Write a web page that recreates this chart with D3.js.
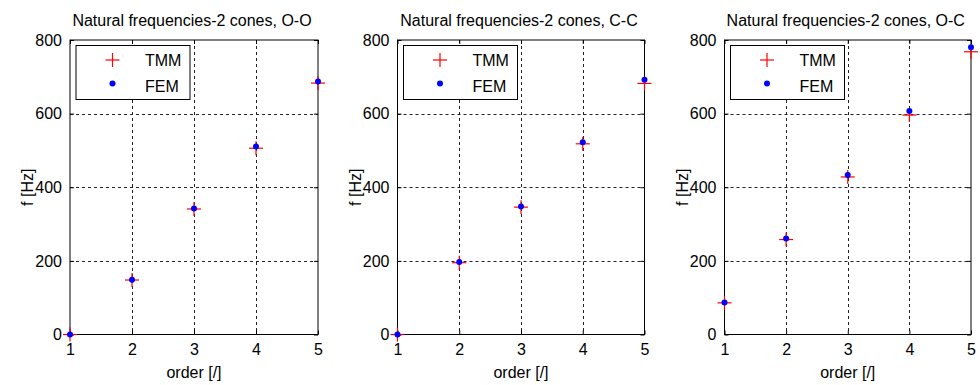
<!DOCTYPE html>
<html><head><meta charset="utf-8">
<script src="https://cdn.jsdelivr.net/npm/d3@7"></script>
<style>body{margin:0;background:#fff}svg{display:block}text{font-family:"Liberation Sans",Arial,sans-serif;fill:#000}</style>
</head><body><svg id="c" width="980" height="385"></svg>
<script>
const orders = [1, 2, 3, 4, 5];
const xTicks = [1, 2, 3, 4, 5];
const yTicks = [0, 200, 400, 600, 800];
const titles = ["Natural frequencies-2 cones, O-O", "Natural frequencies-2 cones, C-C", "Natural frequencies-2 cones, O-C"];
const seriesNames = ["TMM", "FEM"];
const tmmOO = [0, 148, 341, 506, 683];
const femOO = [0, 149, 342, 511, 687];
const tmmCC = [0, 195, 346, 518, 682];
const femCC = [0, 197, 348, 522, 692];
const tmmOC = [86, 258, 428, 596, 768];
const femOC = [87, 261, 433, 607, 780];
const xLabel = "order [/]";
const yLabel = "f [Hz]";

const panels = [
  {title: titles[0], tmm: tmmOO, fem: femOO, x0: 70, x1: 318},
  {title: titles[1], tmm: tmmCC, fem: femCC, x0: 397.5, x1: 644.5},
  {title: titles[2], tmm: tmmOC, fem: femOC, x0: 724.5, x1: 971}
];
const plotTop = 40, plotBottom = 334.5;
const svg = d3.select("#c");
const FS = 16;

panels.forEach(p => {
  const x = d3.scaleLinear().domain([1, 5]).range([p.x0, p.x1]);
  const y = d3.scaleLinear().domain([0, 800]).range([plotBottom, plotTop]);
  const g = svg.append("g");
  g.selectAll(".gx").data(xTicks.slice(1, -1)).join("line")
    .attr("x1", d => Math.round(x(d)) + 0.5).attr("x2", d => Math.round(x(d)) + 0.5)
    .attr("y1", plotTop).attr("y2", plotBottom)
    .attr("stroke", "#222").attr("stroke-dasharray", "3,3");
  g.selectAll(".gy").data(yTicks.slice(1, -1)).join("line")
    .attr("y1", d => Math.round(y(d)) + 0.5).attr("y2", d => Math.round(y(d)) + 0.5)
    .attr("x1", p.x0).attr("x2", p.x1)
    .attr("stroke", "#222").attr("stroke-dasharray", "3,3");
  const ax = g.append("g").attr("transform", `translate(0,${plotBottom})`)
    .call(d3.axisBottom(x).tickValues(xTicks).tickSize(-4).tickPadding(9).tickFormat(d3.format("d")));
  const axT = g.append("g").attr("transform", `translate(0,${plotTop})`)
    .call(d3.axisTop(x).tickValues(xTicks).tickSize(-4).tickFormat(""));
  const ay = g.append("g").attr("transform", `translate(${p.x0},0)`)
    .call(d3.axisLeft(y).tickValues(yTicks).tickSize(-4).tickPadding(8).tickFormat(d3.format("d")));
  const ayR = g.append("g").attr("transform", `translate(${p.x1},0)`)
    .call(d3.axisRight(y).tickValues(yTicks).tickSize(-4).tickFormat(""));
  [ax, axT, ay, ayR].forEach(a => {
    a.select(".domain").remove();
    a.selectAll("line").attr("stroke", "#000");
    a.selectAll("text").style("font-size", FS + "px").attr("fill", "#000");
  });
  g.append("rect").attr("x", p.x0).attr("y", plotTop).attr("width", p.x1 - p.x0).attr("height", plotBottom - plotTop)
    .attr("fill", "none").attr("stroke", "#000");
  g.append("text").attr("x", (p.x0 + p.x1) / 2 - 2).attr("y", 26).attr("text-anchor", "middle")
    .style("font-size", FS + "px").text(p.title);
  g.append("text").attr("x", (p.x0 + p.x1) / 2).attr("y", 378).attr("text-anchor", "middle")
    .style("font-size", FS + "px").text(xLabel);
  g.append("text").attr("transform", `translate(${p.x0 - 37},${(plotTop + plotBottom) / 2}) rotate(-90)`)
    .attr("text-anchor", "middle").style("font-size", FS + "px").text(yLabel);
  const h = 7;
  const cross = g.selectAll(".tmm").data(orders).join("g")
    .attr("transform", (d, i) => `translate(${x(d)},${y(p.tmm[i])})`);
  cross.append("line").attr("x1", -h).attr("x2", h).attr("stroke", "#ff0000").attr("stroke-width", 1.2);
  cross.append("line").attr("y1", -h).attr("y2", h).attr("stroke", "#ff0000").attr("stroke-width", 1.2);
  g.selectAll(".fem").data(orders).join("circle")
    .attr("cx", d => x(d)).attr("cy", (d, i) => y(p.fem[i])).attr("r", 3).attr("fill", "#0000ff");
  const lx = p.x0 + 5.5, ly = 45;
  g.append("rect").attr("x", lx + 0.5).attr("y", ly + 0.5).attr("width", 114).attr("height", 54)
    .attr("fill", "#fff").attr("stroke", "#000");
  const mx = lx + 37;
  g.append("line").attr("x1", mx - h).attr("x2", mx + h).attr("y1", ly + 15).attr("y2", ly + 15).attr("stroke", "#ff0000").attr("stroke-width", 1.2);
  g.append("line").attr("x1", mx).attr("x2", mx).attr("y1", ly + 15 - h).attr("y2", ly + 15 + h).attr("stroke", "#ff0000").attr("stroke-width", 1.2);
  g.append("circle").attr("cx", mx).attr("cy", ly + 38.5).attr("r", 3).attr("fill", "#0000ff");
  g.append("text").attr("x", lx + 69.5).attr("y", ly + 21).style("font-size", FS + "px").text(seriesNames[0]);
  g.append("text").attr("x", lx + 69.5).attr("y", ly + 46.5).style("font-size", FS + "px").text(seriesNames[1]);
});
</script></body></html>
